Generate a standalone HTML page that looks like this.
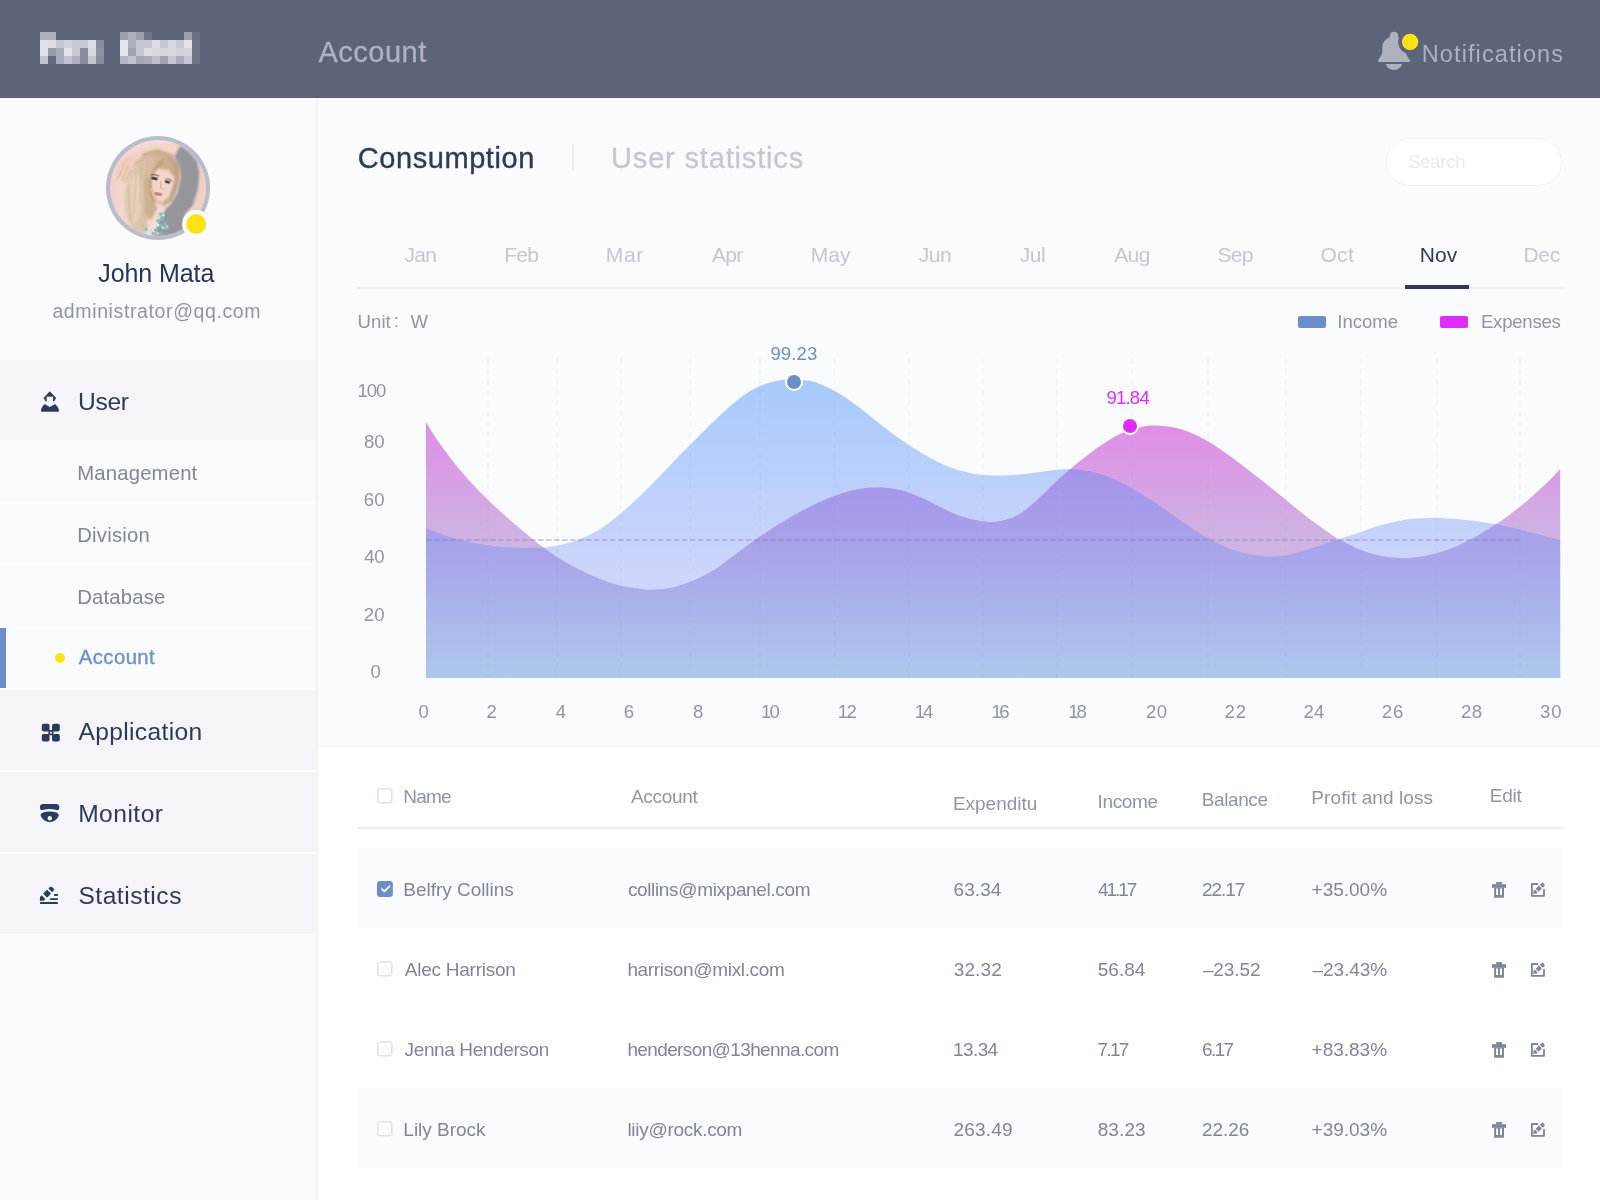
<!DOCTYPE html>
<html><head><meta charset="utf-8"><title>Account</title>
<style>
*{box-sizing:border-box;margin:0;padding:0}
html,body{width:1600px;height:1200px;overflow:hidden;background:#fafbfd;font-family:"Liberation Sans",sans-serif;}
.abs{position:absolute}
.t{position:absolute;white-space:nowrap;line-height:1;}
#hdr{left:0;top:0;width:1600px;height:98px;background:#5c6479;border-bottom:1px solid #545c71}
#side{left:0;top:99px;width:316px;height:1101px;background:#fafbfd}
#sdiv{left:316px;top:99px;width:2px;height:1101px;background:#f2f3f7}
.mi{left:0;width:316px;height:80px;background:#f4f4f9}
#tbl{left:318px;top:745px;width:1282px;height:455px;background:#fff;border-top:2px solid #f6f7fa}
.row{left:358px;width:1204px;height:80px;background:#fafbfe}
.cb{width:15.6px;height:15.6px;border:1.6px solid #e2e4ec;border-radius:3.5px;background:#fff}
</style></head><body>
<div id="root" style="position:absolute;left:0;top:0;width:1600px;height:1200px;will-change:transform">

<div class="abs" id="hdr"></div>
<div class="abs" style="left:0;top:98px;width:1600px;height:1px;background:#fff"></div>
<svg class="abs" style="left:40px;top:32px" width="160" height="32" shape-rendering="crispEdges"><rect x="0" y="0" width="8" height="8" fill="#adb1be"/><rect x="8" y="0" width="8" height="8" fill="#adb1be"/><rect x="0" y="8" width="8" height="8" fill="#e0e1e6"/><rect x="8" y="8" width="8" height="8" fill="#dcdde3"/><rect x="16" y="8" width="8" height="8" fill="#c6c9d2"/><rect x="24" y="8" width="8" height="8" fill="#d0d2d9"/><rect x="32" y="8" width="8" height="8" fill="#c8cbd3"/><rect x="40" y="8" width="8" height="8" fill="#c8cbd3"/><rect x="48" y="8" width="8" height="8" fill="#dddee4"/><rect x="56" y="8" width="8" height="8" fill="#878c9c"/><rect x="0" y="16" width="8" height="8" fill="#e0e1e6"/><rect x="8" y="16" width="8" height="8" fill="#969baa"/><rect x="16" y="16" width="8" height="8" fill="#a9adba"/><rect x="24" y="16" width="8" height="8" fill="#e2e3e8"/><rect x="32" y="16" width="8" height="8" fill="#c8cbd3"/><rect x="40" y="16" width="8" height="8" fill="#878c9c"/><rect x="48" y="16" width="8" height="8" fill="#d8dae0"/><rect x="56" y="16" width="8" height="8" fill="#8f94a3"/><rect x="0" y="24" width="8" height="8" fill="#c0c3cd"/><rect x="8" y="24" width="8" height="8" fill="#626880"/><rect x="16" y="24" width="8" height="8" fill="#a9adba"/><rect x="24" y="24" width="8" height="8" fill="#c0c3cd"/><rect x="32" y="24" width="8" height="8" fill="#adb1bc"/><rect x="40" y="24" width="8" height="8" fill="#878c9c"/><rect x="48" y="24" width="8" height="8" fill="#c4c7d0"/><rect x="56" y="24" width="8" height="8" fill="#878c9c"/><rect x="80" y="0" width="8" height="8" fill="#9b9fad"/><rect x="88" y="0" width="8" height="8" fill="#adb1be"/><rect x="96" y="0" width="8" height="8" fill="#9b9fad"/><rect x="104" y="0" width="8" height="8" fill="#6f7589"/><rect x="144" y="0" width="8" height="8" fill="#9b9fad"/><rect x="152" y="0" width="8" height="8" fill="#6a7085"/><rect x="80" y="8" width="8" height="8" fill="#e4e5e9"/><rect x="88" y="8" width="8" height="8" fill="#adb1be"/><rect x="96" y="8" width="8" height="8" fill="#c6c9d2"/><rect x="104" y="8" width="8" height="8" fill="#c6c9d2"/><rect x="112" y="8" width="8" height="8" fill="#dddee3"/><rect x="120" y="8" width="8" height="8" fill="#c6c9d2"/><rect x="128" y="8" width="8" height="8" fill="#d8d9df"/><rect x="136" y="8" width="8" height="8" fill="#c8cad3"/><rect x="144" y="8" width="8" height="8" fill="#e2e3e7"/><rect x="152" y="8" width="8" height="8" fill="#6f7589"/><rect x="80" y="16" width="8" height="8" fill="#e4e5e9"/><rect x="88" y="16" width="8" height="8" fill="#a0a4b2"/><rect x="96" y="16" width="8" height="8" fill="#c6c9d2"/><rect x="104" y="16" width="8" height="8" fill="#dcdde2"/><rect x="112" y="16" width="8" height="8" fill="#d8d9de"/><rect x="120" y="16" width="8" height="8" fill="#d6d7dd"/><rect x="128" y="16" width="8" height="8" fill="#d8d9de"/><rect x="136" y="16" width="8" height="8" fill="#d0d2d9"/><rect x="144" y="16" width="8" height="8" fill="#d4d6dc"/><rect x="152" y="16" width="8" height="8" fill="#6f7589"/><rect x="80" y="24" width="8" height="8" fill="#b4b7c3"/><rect x="88" y="24" width="8" height="8" fill="#c0c3cd"/><rect x="96" y="24" width="8" height="8" fill="#a5a9b6"/><rect x="104" y="24" width="8" height="8" fill="#a9adb9"/><rect x="112" y="24" width="8" height="8" fill="#bcbfc9"/><rect x="120" y="24" width="8" height="8" fill="#a0a4b2"/><rect x="128" y="24" width="8" height="8" fill="#c6c9d1"/><rect x="136" y="24" width="8" height="8" fill="#a9adb9"/><rect x="144" y="24" width="8" height="8" fill="#c6c9d1"/><rect x="152" y="24" width="8" height="8" fill="#6f7589"/></svg>
<span class="t" style="left:318.44px;top:38.00px;font-size:29.00px;color:#aeb2c0;letter-spacing:0.514px;-webkit-text-stroke:0.3px #aeb2c0;">Account</span>
<span class="t" style="left:1421.77px;top:43.00px;font-size:23.50px;color:#aeb2c0;letter-spacing:1.106px;">Notifications</span>
<svg class="abs" style="left:1370px;top:24px" width="56" height="56" viewBox="1370 24 56 56">
<g fill="#aeb2be"><circle cx="1394.060" cy="35.900" r="4.100"/>
<path d="M1390.200 37 C1385.500 38.800 1382.300 42.600 1382.300 47.500 V51.500 C1382.300 54.800 1379.600 57.600 1378.300 60.200 C1377.800 61.200 1378.300 62.100 1379.500 62.100 H1408.600 C1409.800 62.100 1410.300 61.200 1409.800 60.200 C1408.500 57.600 1405.800 54.800 1405.800 51.500 V47.500 C1405.800 42.600 1402.600 38.800 1397.900 37Z"/>
<path d="M1385.800 64.100 H1402.100 C1401 67.600 1397.900 69.950 1394 69.950 C1390 69.950 1386.900 67.600 1385.800 64.100Z"/></g>
<circle cx="1410.100" cy="42" r="11.900" fill="#5c6479"/>
<circle cx="1410.100" cy="42" r="8.200" fill="#ffe116"/>
</svg>
<div class="abs" id="side"></div><div class="abs" id="sdiv"></div>
<svg class="abs" style="left:104px;top:134px" width="108" height="108" viewBox="0 0 1200 1200">
<defs><clipPath id="avc"><circle cx="600" cy="600" r="532"/></clipPath>
<filter id="b1" x="-10%" y="-10%" width="120%" height="120%"><feGaussianBlur stdDeviation="13"/></filter>
<filter id="b2" x="-10%" y="-10%" width="120%" height="120%"><feGaussianBlur stdDeviation="9"/></filter>
<filter id="b3" x="-10%" y="-10%" width="120%" height="120%"><feGaussianBlur stdDeviation="5"/></filter>
<linearGradient id="avbg" x1="0" y1="0" x2="1" y2="0"><stop offset="0" stop-color="#f0d2cb"/><stop offset="0.5" stop-color="#f5ded8"/><stop offset="1" stop-color="#f4d8d1"/></linearGradient>
<linearGradient id="hairg" x1="0" y1="0" x2="1" y2="0"><stop offset="0" stop-color="#e3cdb5"/><stop offset="0.45" stop-color="#d8bea2"/><stop offset="1" stop-color="#c0a080"/></linearGradient>
<pattern id="knit" width="22" height="22" patternUnits="userSpaceOnUse"><rect width="22" height="22" fill="#96959c"/><circle cx="5" cy="6" r="5" fill="#b0afb6"/><circle cx="16" cy="17" r="5" fill="#807f88"/></pattern>
</defs>
<circle cx="600" cy="600" r="578" fill="#b9bccb"/>
<g clip-path="url(#avc)">
<rect x="60" y="60" width="1080" height="1080" fill="url(#avbg)"/>
<g filter="url(#b1)">
<path d="M1045 260 L1140 400 L1140 900 L1000 960 L985 800 L1050 610 Z" fill="#f1d0c7"/>
<path d="M842 128 L940 190 L1035 300 L1062 430 L1045 620 L985 800 L905 885 L885 1000 L870 1130 L560 1140 L640 860 L735 790 L815 650 L850 490 L838 335 L775 240 Z" fill="url(#knit)"/>
<path d="M260 245 L420 160 L600 108 L835 100 L842 140 L790 232 L620 192 L470 222 L345 330 Z" fill="#f3d4c6"/>
<path d="M330 335 L430 228 L600 168 L760 245 L835 330 L830 440 L800 620 L750 730 L650 830 L620 910 L510 1000 L450 1110 L320 1070 L240 900 L222 700 L255 500 Z" fill="url(#hairg)"/>
<path d="M122 525 L140 420 L190 312 L262 242 L332 252 L342 332 L292 422 L252 532 L214 548 L178 478 Z" fill="#f0ccbc"/>
</g>
<g filter="url(#b2)">
<path d="M528 445 L598 384 L715 398 L782 480 L772 600 L722 702 L642 765 L560 722 L520 600 Z" fill="#f3d5c8"/>
<path d="M545 745 L650 778 L690 832 L640 900 L560 1010 L470 1015 L500 880 Z" fill="#f4dbcf"/>
<path d="M770 310 L835 355 L835 520 L800 640 L752 735 L700 785 L745 640 L792 480 Z" fill="#c3a281"/>
<path d="M565 385 L650 305 L760 322 L792 425 L722 394 L602 382 L535 452 Z" fill="#cbad8e"/>
<path d="M300 520 L380 420 L420 600 L400 900 L340 1000 L300 800 Z" fill="#e5d1ba"/>
<path d="M445 500 L520 472 L528 700 L598 820 L520 960 L452 900 Z" fill="#ccb092"/>
<path d="M340 330 L600 205 L790 240" stroke="#dcb19f" stroke-width="22" fill="none"/>
<path d="M545 722 Q600 770 655 778" stroke="#d9b09b" stroke-width="20" fill="none"/>
<path d="M660 290 Q540 380 520 520 Q510 640 560 760" stroke="#b89a7a" stroke-width="26" fill="none"/>
<path d="M430 240 Q560 160 760 250" stroke="#c9ab8b" stroke-width="30" fill="none"/>
</g>
<g filter="url(#b3)">
<path d="M150 500 L232 335 M192 522 L272 352 M226 540 L300 402" stroke="#d7a591" stroke-width="12" fill="none" opacity="0.550"/>
<path d="M360 420 L330 900 M410 330 L400 760 M480 300 L460 560 M270 560 L290 950" stroke="#c9ad8e" stroke-width="10" fill="none" opacity="0.700"/>
<ellipse cx="562" cy="494" rx="38" ry="17" fill="#3f3640" transform="rotate(12 562 494)"/>
<ellipse cx="704" cy="534" rx="32" ry="15" fill="#3f3640" transform="rotate(14 704 534)"/>
<path d="M515 458 Q565 440 612 470" stroke="#8a6a56" stroke-width="13" fill="none"/>
<path d="M680 500 Q725 495 755 525" stroke="#8a6a56" stroke-width="12" fill="none"/>
<path d="M632 525 L628 598 L660 612" stroke="#dcb2a0" stroke-width="14" fill="none"/>
<ellipse cx="600" cy="667" rx="46" ry="19" fill="#c3807c" transform="rotate(10 600 667)"/>
<path d="M522 600 Q560 730 645 765" stroke="#e6c1b0" stroke-width="16" fill="none"/>
<g fill="#62c7d6"><circle cx="630" cy="890" r="20"/><circle cx="650" cy="945" r="20"/><circle cx="600" cy="965" r="18"/><circle cx="680" cy="1000" r="20"/><circle cx="630" cy="1015" r="20"/><circle cx="575" cy="1065" r="20"/><circle cx="690" cy="1055" r="18"/><circle cx="545" cy="1105" r="18"/><circle cx="470" cy="1060" r="16"/><circle cx="640" cy="1100" r="18"/></g>
<g fill="#f1d2a6"><circle cx="610" cy="925" r="16"/><circle cx="655" cy="1040" r="18"/><circle cx="520" cy="1075" r="18"/><circle cx="600" cy="1105" r="16"/><circle cx="700" cy="1030" r="14"/></g>
<g fill="#fbf3e8"><circle cx="660" cy="905" r="13"/><circle cx="600" cy="1010" r="15"/><circle cx="560" cy="1030" r="12"/><circle cx="500" cy="1040" r="12"/></g>
</g>
</g>
<circle cx="1025" cy="1000" r="156" fill="#fdfdfe"/><circle cx="1025" cy="1000" r="111" fill="#ffe116"/>
</svg>
<span class="t" style="left:98.31px;top:261.00px;font-size:25.00px;color:#26345a;letter-spacing:-0.093px;">John Mata</span>
<span class="t" style="left:52.42px;top:302.00px;font-size:19.50px;color:#8e95a9;letter-spacing:0.617px;">administrator@qq.com</span>
<div class="abs mi" style="top:360px"></div>
<div class="abs" style="left:0;top:440px;width:316px;height:250px;background:#fcfdfe"></div>
<div class="abs" style="left:0;top:440px;width:316px;height:62px;background:#fafbfd"></div>
<div class="abs" style="left:0;top:504px;width:316px;height:60px;background:#fafbfd"></div>
<div class="abs" style="left:0;top:566px;width:316px;height:60px;background:#fafbfd"></div>
<div class="abs" style="left:0;top:628px;width:316px;height:60px;background:#fafbfd"></div>
<div class="abs" style="left:0;top:628px;width:6px;height:60px;background:#6b8dc9"></div>
<div class="abs" style="left:55px;top:653px;width:10px;height:10px;border-radius:50%;background:#ffe116"></div>
<div class="abs" style="left:0;top:688px;width:316px;height:246px;background:#fff"></div>
<div class="abs mi" style="top:690px"></div>
<div class="abs mi" style="top:772px"></div>
<div class="abs mi" style="top:854px"></div>
<span class="t" style="left:78.00px;top:390.00px;font-size:24.60px;color:#2c3a5c;letter-spacing:-0.311px;">User</span>
<span class="t" style="left:77.23px;top:463.00px;font-size:20.30px;color:#7e869c;letter-spacing:0.181px;">Management</span>
<span class="t" style="left:77.23px;top:525.00px;font-size:20.30px;color:#7e869c;letter-spacing:0.231px;">Division</span>
<span class="t" style="left:77.23px;top:587.00px;font-size:20.30px;color:#7e869c;letter-spacing:0.195px;">Database</span>
<span class="t" style="left:78.86px;top:647.00px;font-size:20.30px;color:#6b8fd1;letter-spacing:0.423px;-webkit-text-stroke:0.35px #6b8fd1;">Account</span>
<span class="t" style="left:78.45px;top:720.00px;font-size:24.60px;color:#2c3a5c;letter-spacing:0.340px;">Application</span>
<span class="t" style="left:78.18px;top:802.00px;font-size:24.60px;color:#2c3a5c;letter-spacing:0.466px;">Monitor</span>
<span class="t" style="left:78.38px;top:884.00px;font-size:24.60px;color:#2c3a5c;letter-spacing:0.520px;">Statistics</span>
<svg class="abs" style="left:36px;top:386px" width="28" height="30" viewBox="36 386 28 30">
<path d="M49.760 391.750 L55.550 397.850 Q55.750 398.100 55.550 398.350 L53.550 401.250 V396.200 H46.150 V401.250 L44.200 398.350 Q44 398.100 44.200 397.850 Z" fill="#2c3a5c" stroke="#2c3a5c" stroke-width="0.900" stroke-linejoin="round"/>
<path d="M44.300 404.300 Q44.560 404.050 44.900 404.250 L49.760 407.100 L54.700 404.250 Q55.050 404.050 55.300 404.300 C57.400 406.200 58.500 408.400 58.950 410.300 C59.150 411.200 58.600 411.850 57.700 411.850 H42.200 C41.300 411.850 40.750 411.200 40.950 410.300 C41.400 408.400 42.300 406.200 44.300 404.300Z" fill="#2c3a5c"/>
</svg>
<svg class="abs" style="left:38px;top:720px" width="26" height="26" viewBox="38 720 26 26">
<g fill="#2c3a5c"><rect x="41.800" y="723.750" width="7.750" height="7.650" rx="1.800"/><rect x="52.050" y="723.750" width="7.750" height="7.650" rx="1.800"/><rect x="41.800" y="733.950" width="7.750" height="7.650" rx="1.800"/><rect x="52.050" y="733.950" width="7.750" height="7.650" rx="1.800"/></g>
<rect x="49.150" y="730.800" width="3.500" height="3.600" rx="0.300" fill="none" stroke="#2c3a5c" stroke-width="1.700"/>
</svg>
<svg class="abs" style="left:36px;top:800px" width="28" height="26" viewBox="36 800 28 26">
<path d="M43 803.900 H56.300 C58.200 803.900 59.300 805 59.300 806.800 V808 C59.300 809.600 58 810.500 56.600 810 C52 808.600 47.300 808.600 42.700 810 C41.300 810.500 40 809.600 40 808 V806.800 C40 805 41.100 803.900 43 803.900Z" fill="#2c3a5c"/>
<path d="M43 812.600 C47.400 811.200 52 811.200 56.400 812.600 C58.600 813.400 59.300 815.300 58.200 817 C56 820.200 53 822.100 49.700 822.100 C46.400 822.100 43.400 820.200 41.200 817 C40.100 815.300 40.800 813.400 43 812.600Z" fill="#2c3a5c"/>
<circle cx="49.800" cy="818.200" r="2.200" fill="#f4f4f9"/>
</svg>
<svg class="abs" style="left:36px;top:882px" width="28" height="26" viewBox="36 882 28 26">
<g fill="#2c3a5c"><rect x="40" y="902.050" width="17.900" height="1.850" rx="0.300"/><rect x="50.100" y="898.150" width="7.800" height="1.800" rx="0.300"/><rect x="54.100" y="894.050" width="3.800" height="1.850" rx="0.300"/>
<g transform="translate(39.900,900.700) rotate(-45)"><path d="M0 0 L2.700 -2.600 H5.100 V2.600 H2.700Z"/><rect x="7.300" y="-2.800" width="5.600" height="5.600" rx="0.200"/><path d="M14.700 -2.600 H16.600 C17.500 -2.600 18.200 -1.900 18.200 -1 V1 C18.200 1.900 17.500 2.600 16.600 2.600 H14.700Z"/></g></g>
</svg>
<span class="t" style="left:357.78px;top:144.00px;font-size:29.00px;color:#2c3a5c;letter-spacing:0.564px;-webkit-text-stroke:0.35px #2c3a5c;">Consumption</span>
<div class="abs" style="left:572px;top:144px;width:2px;height:27px;background:#eceef3"></div>
<span class="t" style="left:611.06px;top:144.00px;font-size:29.00px;color:#c3c7d3;letter-spacing:0.830px;-webkit-text-stroke:0.3px #c3c7d3;">User statistics</span>
<div class="abs" style="left:1386px;top:138px;width:176px;height:48px;border-radius:24px;background:#fff;border:1px solid #f0f1f5"></div>
<span class="t" style="left:1408.16px;top:153.00px;font-size:18.40px;color:#e8eaef;letter-spacing:-0.174px;">Search</span>
<span class="t" style="left:404.57px;top:244.00px;font-size:21.00px;color:#c3c7d3;letter-spacing:-0.733px;">Jan</span>
<span class="t" style="left:504.18px;top:244.00px;font-size:21.00px;color:#c3c7d3;letter-spacing:-0.741px;">Feb</span>
<span class="t" style="left:605.78px;top:244.00px;font-size:21.00px;color:#c3c7d3;letter-spacing:0.703px;">Mar</span>
<span class="t" style="left:712.06px;top:244.00px;font-size:21.00px;color:#c3c7d3;letter-spacing:-0.695px;">Apr</span>
<span class="t" style="left:810.78px;top:244.00px;font-size:21.00px;color:#c3c7d3;">May</span>
<span class="t" style="left:918.77px;top:244.00px;font-size:21.00px;color:#c3c7d3;letter-spacing:-0.433px;">Jun</span>
<span class="t" style="left:1019.67px;top:244.00px;font-size:21.00px;color:#c3c7d3;letter-spacing:-0.406px;">Jul</span>
<span class="t" style="left:1114.16px;top:244.00px;font-size:21.00px;color:#c3c7d3;letter-spacing:-0.585px;">Aug</span>
<span class="t" style="left:1217.55px;top:244.00px;font-size:21.00px;color:#c3c7d3;letter-spacing:-0.715px;">Sep</span>
<span class="t" style="left:1320.51px;top:244.00px;font-size:21.00px;color:#c3c7d3;letter-spacing:0.290px;">Oct</span>
<span class="t" style="left:1419.78px;top:244.00px;font-size:21.00px;color:#2c3a5c;letter-spacing:0.025px;">Nov</span>
<span class="t" style="left:1523.38px;top:244.00px;font-size:21.00px;color:#c3c7d3;letter-spacing:-0.284px;">Dec</span>
<div class="abs" style="left:357px;top:287px;width:1207px;height:2px;background:#eceef3"></div>
<div class="abs" style="left:1405px;top:285px;width:64px;height:4px;background:#2c3a5c"></div>
<span class="t" style="left:357.57px;top:313.00px;font-size:18.60px;color:#8e95a9;letter-spacing:0.031px;">Unit</span>
<span class="t" style="left:393.80px;top:312.00px;font-size:18.60px;color:#8e95a9;">:</span>
<span class="t" style="left:410.42px;top:313.00px;font-size:18.60px;color:#8e95a9;">W</span>
<div class="abs" style="left:1298px;top:316px;width:28px;height:12px;border-radius:2px;background:#6b8dc9"></div>
<span class="t" style="left:1337.28px;top:313.00px;font-size:18.60px;color:#8e95a9;letter-spacing:-0.010px;">Income</span>
<div class="abs" style="left:1440px;top:316px;width:28px;height:12px;border-radius:2px;background:#df2cfa"></div>
<span class="t" style="left:1480.97px;top:313.00px;font-size:18.60px;color:#8e95a9;letter-spacing:-0.255px;">Expenses</span>
<svg class="abs" style="left:340px;top:340px" width="1260" height="360" viewBox="340 340 1260 360">
<defs>
<linearGradient id="gb" gradientUnits="userSpaceOnUse" x1="0" y1="380" x2="0" y2="678"><stop offset="0" stop-color="#a7cafc"/><stop offset="0.600" stop-color="#cbd4fb"/><stop offset="1" stop-color="#dcdcfa"/></linearGradient>
<linearGradient id="gm" gradientUnits="userSpaceOnUse" x1="0" y1="420" x2="0" y2="678"><stop offset="0" stop-color="#e08ce6"/><stop offset="0.450" stop-color="#cfb2e3"/><stop offset="1" stop-color="#c4c4e6"/></linearGradient>
<linearGradient id="go" gradientUnits="userSpaceOnUse" x1="0" y1="470" x2="0" y2="678"><stop offset="0" stop-color="#a593ea"/><stop offset="0.500" stop-color="#a9a9eb"/><stop offset="1" stop-color="#aec8ec"/></linearGradient>
<clipPath id="cb"><path d="M426.0,528.0C430.0,529.5 441.0,534.3 450.0,537.0C459.0,539.7 470.0,542.2 480.0,544.0C490.0,545.8 500.0,547.0 510.0,547.6C520.0,548.2 531.7,548.0 540.0,547.6C548.3,547.2 553.3,546.4 560.0,545.0C566.7,543.6 573.3,541.7 580.0,539.0C586.7,536.3 593.3,533.2 600.0,529.0C606.7,524.8 613.3,519.5 620.0,514.0C626.7,508.5 633.3,502.3 640.0,496.0C646.7,489.7 653.3,482.8 660.0,476.0C666.7,469.2 673.3,461.8 680.0,455.0C686.7,448.2 693.3,441.6 700.0,435.0C706.7,428.4 713.3,421.7 720.0,415.5C726.7,409.3 733.3,402.9 740.0,398.0C746.7,393.1 753.3,388.9 760.0,386.0C766.7,383.1 774.3,381.4 780.0,380.3C785.7,379.2 789.3,379.3 794.0,379.4C798.7,379.4 803.7,379.8 808.0,380.6C812.3,381.4 814.7,381.8 820.0,384.0C825.3,386.2 833.3,390.0 840.0,394.0C846.7,398.0 853.3,403.0 860.0,408.0C866.7,413.0 873.3,418.8 880.0,424.0C886.7,429.2 893.3,434.3 900.0,439.0C906.7,443.7 913.3,448.0 920.0,452.0C926.7,456.0 933.3,459.9 940.0,463.0C946.7,466.1 953.3,468.6 960.0,470.5C966.7,472.4 973.3,473.8 980.0,474.6C986.7,475.5 993.3,475.6 1000.0,475.6C1006.7,475.6 1013.3,475.0 1020.0,474.4C1026.7,473.8 1033.3,472.8 1040.0,472.0C1046.7,471.2 1053.3,470.0 1060.0,469.6C1066.7,469.2 1073.3,469.1 1080.0,469.8C1086.7,470.5 1093.3,472.0 1100.0,474.0C1106.7,476.0 1113.3,478.8 1120.0,482.0C1126.7,485.2 1133.3,489.0 1140.0,493.0C1146.7,497.0 1153.3,501.5 1160.0,506.0C1166.7,510.5 1173.3,515.4 1180.0,520.0C1186.7,524.6 1193.3,529.4 1200.0,533.5C1206.7,537.6 1213.3,541.4 1220.0,544.5C1226.7,547.6 1233.3,550.1 1240.0,552.0C1246.7,553.9 1254.3,555.1 1260.0,555.8C1265.7,556.5 1269.0,556.6 1274.0,556.4C1279.0,556.2 1284.0,555.7 1290.0,554.4C1296.0,553.1 1301.7,551.2 1310.0,548.6C1318.3,546.0 1331.5,541.8 1340.0,539.0C1348.5,536.2 1354.5,534.1 1361.0,531.9C1367.5,529.7 1373.2,527.5 1379.0,525.8C1384.8,524.0 1390.2,522.6 1396.0,521.4C1401.8,520.2 1407.9,519.3 1413.8,518.7C1419.6,518.1 1425.2,518.0 1431.0,517.9C1436.8,517.8 1442.9,518.0 1448.8,518.4C1454.6,518.8 1460.2,519.4 1466.0,520.0C1471.8,520.6 1478.5,521.5 1483.8,522.3C1489.0,523.1 1491.9,523.4 1497.8,524.6C1503.6,525.8 1512.4,527.8 1518.8,529.3C1525.1,530.8 1529.1,532.0 1536.0,533.8C1542.9,535.6 1556.2,539.0 1560.2,540.0L1560.2,678L426,678Z"/></clipPath>
</defs>
<path d="M426.0,528.0C430.0,529.5 441.0,534.3 450.0,537.0C459.0,539.7 470.0,542.2 480.0,544.0C490.0,545.8 500.0,547.0 510.0,547.6C520.0,548.2 531.7,548.0 540.0,547.6C548.3,547.2 553.3,546.4 560.0,545.0C566.7,543.6 573.3,541.7 580.0,539.0C586.7,536.3 593.3,533.2 600.0,529.0C606.7,524.8 613.3,519.5 620.0,514.0C626.7,508.5 633.3,502.3 640.0,496.0C646.7,489.7 653.3,482.8 660.0,476.0C666.7,469.2 673.3,461.8 680.0,455.0C686.7,448.2 693.3,441.6 700.0,435.0C706.7,428.4 713.3,421.7 720.0,415.5C726.7,409.3 733.3,402.9 740.0,398.0C746.7,393.1 753.3,388.9 760.0,386.0C766.7,383.1 774.3,381.4 780.0,380.3C785.7,379.2 789.3,379.3 794.0,379.4C798.7,379.4 803.7,379.8 808.0,380.6C812.3,381.4 814.7,381.8 820.0,384.0C825.3,386.2 833.3,390.0 840.0,394.0C846.7,398.0 853.3,403.0 860.0,408.0C866.7,413.0 873.3,418.8 880.0,424.0C886.7,429.2 893.3,434.3 900.0,439.0C906.7,443.7 913.3,448.0 920.0,452.0C926.7,456.0 933.3,459.9 940.0,463.0C946.7,466.1 953.3,468.6 960.0,470.5C966.7,472.4 973.3,473.8 980.0,474.6C986.7,475.5 993.3,475.6 1000.0,475.6C1006.7,475.6 1013.3,475.0 1020.0,474.4C1026.7,473.8 1033.3,472.8 1040.0,472.0C1046.7,471.2 1053.3,470.0 1060.0,469.6C1066.7,469.2 1073.3,469.1 1080.0,469.8C1086.7,470.5 1093.3,472.0 1100.0,474.0C1106.7,476.0 1113.3,478.8 1120.0,482.0C1126.7,485.2 1133.3,489.0 1140.0,493.0C1146.7,497.0 1153.3,501.5 1160.0,506.0C1166.7,510.5 1173.3,515.4 1180.0,520.0C1186.7,524.6 1193.3,529.4 1200.0,533.5C1206.7,537.6 1213.3,541.4 1220.0,544.5C1226.7,547.6 1233.3,550.1 1240.0,552.0C1246.7,553.9 1254.3,555.1 1260.0,555.8C1265.7,556.5 1269.0,556.6 1274.0,556.4C1279.0,556.2 1284.0,555.7 1290.0,554.4C1296.0,553.1 1301.7,551.2 1310.0,548.6C1318.3,546.0 1331.5,541.8 1340.0,539.0C1348.5,536.2 1354.5,534.1 1361.0,531.9C1367.5,529.7 1373.2,527.5 1379.0,525.8C1384.8,524.0 1390.2,522.6 1396.0,521.4C1401.8,520.2 1407.9,519.3 1413.8,518.7C1419.6,518.1 1425.2,518.0 1431.0,517.9C1436.8,517.8 1442.9,518.0 1448.8,518.4C1454.6,518.8 1460.2,519.4 1466.0,520.0C1471.8,520.6 1478.5,521.5 1483.8,522.3C1489.0,523.1 1491.9,523.4 1497.8,524.6C1503.6,525.8 1512.4,527.8 1518.8,529.3C1525.1,530.8 1529.1,532.0 1536.0,533.8C1542.9,535.6 1556.2,539.0 1560.2,540.0L1560.2,678L426,678Z" fill="url(#gb)"/>
<path d="M426.0,422.0C428.3,425.7 434.3,436.0 440.0,444.0C445.7,452.0 453.3,462.0 460.0,470.0C466.7,478.0 473.3,485.2 480.0,492.0C486.7,498.8 493.3,504.9 500.0,511.0C506.7,517.1 513.3,522.8 520.0,528.5C526.7,534.2 533.3,539.9 540.0,545.0C546.7,550.1 553.3,554.8 560.0,559.0C566.7,563.2 573.3,566.7 580.0,570.0C586.7,573.3 593.3,576.4 600.0,579.0C606.7,581.6 613.3,583.9 620.0,585.6C626.7,587.3 634.7,588.3 640.0,589.0C645.3,589.7 647.0,589.9 652.0,589.7C657.0,589.5 663.7,589.3 670.0,588.0C676.3,586.7 683.3,584.6 690.0,582.0C696.7,579.4 705.0,575.2 710.0,572.5C715.0,569.8 715.0,569.6 720.0,566.0C725.0,562.4 733.3,555.9 740.0,551.0C746.7,546.1 753.3,541.1 760.0,536.5C766.7,531.9 773.3,527.6 780.0,523.5C786.7,519.4 793.3,515.6 800.0,512.0C806.7,508.4 813.3,505.0 820.0,502.0C826.7,499.0 833.3,496.2 840.0,494.0C846.7,491.8 853.3,490.1 860.0,489.0C866.7,487.9 873.3,487.4 880.0,487.6C886.7,487.8 893.3,488.4 900.0,490.0C906.7,491.6 913.3,494.2 920.0,497.0C926.7,499.8 933.3,503.8 940.0,507.0C946.7,510.2 953.3,513.7 960.0,516.0C966.7,518.3 974.3,520.0 980.0,521.0C985.7,522.0 989.0,522.4 994.0,522.0C999.0,521.6 1005.0,520.4 1010.0,518.6C1015.0,516.8 1019.0,514.6 1024.0,511.0C1029.0,507.4 1034.0,502.7 1040.0,497.2C1046.0,491.7 1053.3,484.0 1060.0,478.0C1066.7,472.0 1073.3,466.3 1080.0,461.0C1086.7,455.7 1093.3,450.5 1100.0,446.0C1106.7,441.5 1113.3,437.1 1120.0,434.0C1126.7,430.9 1134.0,428.6 1140.0,427.2C1146.0,425.8 1149.3,425.3 1156.0,425.6C1162.7,425.9 1172.7,427.1 1180.0,429.0C1187.3,430.9 1193.3,433.7 1200.0,437.0C1206.7,440.3 1213.3,444.6 1220.0,449.0C1226.7,453.4 1233.3,458.5 1240.0,463.5C1246.7,468.5 1253.3,473.8 1260.0,479.0C1266.7,484.2 1273.3,489.6 1280.0,495.0C1286.7,500.4 1293.3,506.2 1300.0,511.5C1306.7,516.8 1313.3,521.8 1320.0,526.5C1326.7,531.2 1333.2,536.1 1340.0,540.0C1346.8,543.9 1354.5,547.4 1361.0,550.0C1367.5,552.6 1372.2,554.2 1379.0,555.5C1385.8,556.8 1394.2,557.9 1401.5,558.0C1408.8,558.1 1416.1,557.4 1422.5,556.4C1428.9,555.4 1434.2,553.9 1440.0,552.2C1445.8,550.5 1451.7,548.5 1457.5,546.0C1463.3,543.5 1469.2,540.5 1475.0,537.3C1480.8,534.1 1486.7,530.4 1492.5,526.6C1498.3,522.8 1504.2,518.8 1510.0,514.4C1515.8,510.0 1521.7,505.4 1527.5,500.4C1533.3,495.4 1539.5,489.9 1545.0,484.6C1550.5,479.4 1557.7,471.5 1560.2,468.9L1560.2,678L426,678Z" fill="url(#gm)"/>
<path d="M426.0,422.0C428.3,425.7 434.3,436.0 440.0,444.0C445.7,452.0 453.3,462.0 460.0,470.0C466.7,478.0 473.3,485.2 480.0,492.0C486.7,498.8 493.3,504.9 500.0,511.0C506.7,517.1 513.3,522.8 520.0,528.5C526.7,534.2 533.3,539.9 540.0,545.0C546.7,550.1 553.3,554.8 560.0,559.0C566.7,563.2 573.3,566.7 580.0,570.0C586.7,573.3 593.3,576.4 600.0,579.0C606.7,581.6 613.3,583.9 620.0,585.6C626.7,587.3 634.7,588.3 640.0,589.0C645.3,589.7 647.0,589.9 652.0,589.7C657.0,589.5 663.7,589.3 670.0,588.0C676.3,586.7 683.3,584.6 690.0,582.0C696.7,579.4 705.0,575.2 710.0,572.5C715.0,569.8 715.0,569.6 720.0,566.0C725.0,562.4 733.3,555.9 740.0,551.0C746.7,546.1 753.3,541.1 760.0,536.5C766.7,531.9 773.3,527.6 780.0,523.5C786.7,519.4 793.3,515.6 800.0,512.0C806.7,508.4 813.3,505.0 820.0,502.0C826.7,499.0 833.3,496.2 840.0,494.0C846.7,491.8 853.3,490.1 860.0,489.0C866.7,487.9 873.3,487.4 880.0,487.6C886.7,487.8 893.3,488.4 900.0,490.0C906.7,491.6 913.3,494.2 920.0,497.0C926.7,499.8 933.3,503.8 940.0,507.0C946.7,510.2 953.3,513.7 960.0,516.0C966.7,518.3 974.3,520.0 980.0,521.0C985.7,522.0 989.0,522.4 994.0,522.0C999.0,521.6 1005.0,520.4 1010.0,518.6C1015.0,516.8 1019.0,514.6 1024.0,511.0C1029.0,507.4 1034.0,502.7 1040.0,497.2C1046.0,491.7 1053.3,484.0 1060.0,478.0C1066.7,472.0 1073.3,466.3 1080.0,461.0C1086.7,455.7 1093.3,450.5 1100.0,446.0C1106.7,441.5 1113.3,437.1 1120.0,434.0C1126.7,430.9 1134.0,428.6 1140.0,427.2C1146.0,425.8 1149.3,425.3 1156.0,425.6C1162.7,425.9 1172.7,427.1 1180.0,429.0C1187.3,430.9 1193.3,433.7 1200.0,437.0C1206.7,440.3 1213.3,444.6 1220.0,449.0C1226.7,453.4 1233.3,458.5 1240.0,463.5C1246.7,468.5 1253.3,473.8 1260.0,479.0C1266.7,484.2 1273.3,489.6 1280.0,495.0C1286.7,500.4 1293.3,506.2 1300.0,511.5C1306.7,516.8 1313.3,521.8 1320.0,526.5C1326.7,531.2 1333.2,536.1 1340.0,540.0C1346.8,543.9 1354.5,547.4 1361.0,550.0C1367.5,552.6 1372.2,554.2 1379.0,555.5C1385.8,556.8 1394.2,557.9 1401.5,558.0C1408.8,558.1 1416.1,557.4 1422.5,556.4C1428.9,555.4 1434.2,553.9 1440.0,552.2C1445.8,550.5 1451.7,548.5 1457.5,546.0C1463.3,543.5 1469.2,540.5 1475.0,537.3C1480.8,534.1 1486.7,530.4 1492.5,526.6C1498.3,522.8 1504.2,518.8 1510.0,514.4C1515.8,510.0 1521.7,505.4 1527.5,500.4C1533.3,495.4 1539.5,489.9 1545.0,484.6C1550.5,479.4 1557.7,471.5 1560.2,468.9L1560.2,678L426,678Z" fill="url(#go)" clip-path="url(#cb)"/>
<g stroke="#8a8fa8" stroke-opacity="0.110" stroke-width="1.200" stroke-dasharray="6 4.500"><line x1="488" y1="358" x2="488" y2="678"/><line x1="557" y1="358" x2="557" y2="678"/><line x1="621" y1="358" x2="621" y2="678"/><line x1="690" y1="358" x2="690" y2="678"/><line x1="760" y1="358" x2="760" y2="678"/><line x1="834.4" y1="358" x2="834.4" y2="678"/><line x1="908.8" y1="358" x2="908.8" y2="678"/><line x1="982.8" y1="358" x2="982.8" y2="678"/><line x1="1057" y1="358" x2="1057" y2="678"/><line x1="1132" y1="358" x2="1132" y2="678"/><line x1="1208" y1="358" x2="1208" y2="678"/><line x1="1286" y1="358" x2="1286" y2="678"/><line x1="1361" y1="358" x2="1361" y2="678"/><line x1="1436.8" y1="358" x2="1436.8" y2="678"/><line x1="1520" y1="358" x2="1520" y2="678"/></g>
<line x1="426" y1="540" x2="1519" y2="540" stroke="#7f7ab2" stroke-opacity="0.480" stroke-width="1.500" stroke-dasharray="5.500 2.500"/>
<circle cx="794" cy="382" r="8" fill="#6b8dc9" stroke="#fff" stroke-width="2"/>
<circle cx="1130" cy="426" r="8" fill="#df2cfa" stroke="#fff" stroke-width="2"/>
</svg>
<span class="t" style="left:770.43px;top:345.00px;font-size:18.60px;color:#6b8dc9;letter-spacing:0.111px;">99.23</span>
<span class="t" style="left:1106.43px;top:389.00px;font-size:18.60px;color:#df2cfa;letter-spacing:-0.807px;">91.84</span>
<span class="t" style="left:357.38px;top:382.00px;font-size:18.60px;color:#8e95a9;letter-spacing:-1.045px;">100</span>
<span class="t" style="left:363.99px;top:433.00px;font-size:18.60px;color:#8e95a9;letter-spacing:-0.054px;">80</span>
<span class="t" style="left:363.86px;top:491.00px;font-size:18.60px;color:#8e95a9;letter-spacing:0.082px;">60</span>
<span class="t" style="left:364.37px;top:548.00px;font-size:18.60px;color:#8e95a9;letter-spacing:-0.435px;">40</span>
<span class="t" style="left:363.86px;top:606.00px;font-size:18.60px;color:#8e95a9;letter-spacing:0.073px;">20</span>
<span class="t" style="left:370.47px;top:663.00px;font-size:18.60px;color:#8e95a9;">0</span>
<span class="t" style="left:418.52px;top:703.00px;font-size:18.60px;color:#8e95a9;">0</span>
<span class="t" style="left:486.56px;top:703.00px;font-size:18.60px;color:#8e95a9;">2</span>
<span class="t" style="left:555.67px;top:703.00px;font-size:18.60px;color:#8e95a9;">4</span>
<span class="t" style="left:623.76px;top:703.00px;font-size:18.60px;color:#8e95a9;">6</span>
<span class="t" style="left:692.89px;top:703.00px;font-size:18.60px;color:#8e95a9;">8</span>
<span class="t" style="left:760.88px;top:703.00px;font-size:18.60px;color:#8e95a9;letter-spacing:-1.746px;">10</span>
<span class="t" style="left:837.78px;top:703.00px;font-size:18.60px;color:#8e95a9;letter-spacing:-1.637px;">12</span>
<span class="t" style="left:914.68px;top:703.00px;font-size:18.60px;color:#8e95a9;letter-spacing:-2.027px;">14</span>
<span class="t" style="left:991.48px;top:703.00px;font-size:18.60px;color:#8e95a9;letter-spacing:-2.555px;">16</span>
<span class="t" style="left:1068.28px;top:703.00px;font-size:18.60px;color:#8e95a9;letter-spacing:-2.064px;">18</span>
<span class="t" style="left:1146.06px;top:703.00px;font-size:18.60px;color:#8e95a9;letter-spacing:0.273px;">20</span>
<span class="t" style="left:1224.46px;top:703.00px;font-size:18.60px;color:#8e95a9;letter-spacing:0.882px;">22</span>
<span class="t" style="left:1303.56px;top:703.00px;font-size:18.60px;color:#8e95a9;letter-spacing:0.092px;">24</span>
<span class="t" style="left:1381.86px;top:703.00px;font-size:18.60px;color:#8e95a9;letter-spacing:0.864px;">26</span>
<span class="t" style="left:1461.06px;top:703.00px;font-size:18.60px;color:#8e95a9;letter-spacing:0.355px;">28</span>
<span class="t" style="left:1539.99px;top:703.00px;font-size:18.60px;color:#8e95a9;letter-spacing:0.846px;">30</span>
<div class="abs" id="tbl"></div>
<svg class="abs" style="left:376.2px;top:786.6px" width="18" height="18" viewBox="-1 -1 18 18"><rect x="0.800" y="0.800" width="14" height="14" rx="2.800" fill="#fff" stroke="#e1e3eb" stroke-width="1.600"/></svg>
<span class="t" style="left:403.34px;top:787.00px;font-size:19.00px;color:#8e95a9;letter-spacing:-0.793px;">Name</span>
<span class="t" style="left:630.96px;top:787.00px;font-size:19.00px;color:#8e95a9;letter-spacing:-0.313px;">Account</span>
<span class="t" style="left:952.94px;top:794.00px;font-size:19.00px;color:#8e95a9;letter-spacing:-0.023px;">Expenditu</span>
<span class="t" style="left:1097.55px;top:792.00px;font-size:19.00px;color:#8e95a9;letter-spacing:-0.362px;">Income</span>
<span class="t" style="left:1201.74px;top:790.00px;font-size:19.00px;color:#8e95a9;letter-spacing:-0.393px;">Balance</span>
<span class="t" style="left:1311.34px;top:788.00px;font-size:19.00px;color:#8e95a9;letter-spacing:0.097px;">Profit and loss</span>
<span class="t" style="left:1489.74px;top:786.00px;font-size:19.00px;color:#8e95a9;letter-spacing:-0.247px;">Edit</span>
<div class="abs" style="left:357px;top:827px;width:1207px;height:2px;background:#eceef3"></div>
<div class="abs row" style="top:848px"></div>
<div class="abs row" style="top:1088px"></div>
<svg class="abs" style="left:375px;top:879px" width="20" height="20" viewBox="375 879 20 20"><rect x="377" y="881" width="15.900" height="15.900" rx="3" fill="#6c8fcb"/><path d="M382 889.200 L384.400 891.400 L389.500 886.300" fill="none" stroke="#fff" stroke-width="1.800" stroke-linecap="round" stroke-linejoin="round"/></svg>
<span class="t" style="left:403.34px;top:880.00px;font-size:19.00px;color:#7e869c;letter-spacing:-0.032px;">Belfry Collins</span>
<span class="t" style="left:627.89px;top:880.00px;font-size:19.00px;color:#7e869c;letter-spacing:-0.349px;">collins@mixpanel.com</span>
<span class="t" style="left:953.54px;top:880.00px;font-size:19.00px;color:#7e869c;letter-spacing:0.069px;">63.34</span>
<span class="t" style="left:1098.06px;top:880.00px;font-size:19.00px;color:#7e869c;letter-spacing:-2.064px;">41.17</span>
<span class="t" style="left:1201.94px;top:880.00px;font-size:19.00px;color:#7e869c;letter-spacing:-1.034px;">22.17</span>
<span class="t" style="left:1311.57px;top:880.00px;font-size:19.00px;color:#7e869c;letter-spacing:-0.005px;">+35.00%</span>
<svg class="abs" style="left:1488px;top:878px" width="64" height="24" viewBox="1488 878 64 24">
<g fill="#7e869c"><rect x="1496.200" y="882" width="5.700" height="2.500"/><rect x="1492" y="884.200" width="14" height="3.600"/>
<path fill-rule="evenodd" d="M1494.100 887.700 H1504 V897.800 H1494.100Z M1496.100 888.600 V895 H1498.100 V888.600Z M1500 888.600 V895 H1502 V888.600Z"/>
<path d="M1538 883.100 H1532 C1531.400 883.100 1531 883.500 1531 884.100 V895.800 C1531 896.400 1531.400 896.800 1532 896.800 H1543.900 C1544.500 896.800 1544.900 896.400 1544.900 895.800 V889 H1543.100 V895 H1532.800 V884.900 H1538Z"/>
<g transform="translate(1533.250,893.800) rotate(-43)"><path d="M0 0 L2.400 -2.100 H4 V2.100 H2.400Z"/><rect x="5.200" y="-2.100" width="4.700" height="4.200"/><path d="M11 -2.100 H13.200 C14 -2.100 14.500 -1.600 14.500 -0.900 V0.900 C14.500 1.600 14 2.100 13.200 2.100 H11Z"/></g></g>
</svg>
<svg class="abs" style="left:376.2px;top:960.2px" width="18" height="18" viewBox="-1 -1 18 18"><rect x="0.800" y="0.800" width="14" height="14" rx="2.800" fill="#fff" stroke="#e1e3eb" stroke-width="1.600"/></svg>
<span class="t" style="left:404.86px;top:960.00px;font-size:19.00px;color:#7e869c;letter-spacing:-0.256px;">Alec Harrison</span>
<span class="t" style="left:627.38px;top:960.00px;font-size:19.00px;color:#7e869c;letter-spacing:-0.338px;">harrison@mixl.com</span>
<span class="t" style="left:953.78px;top:960.00px;font-size:19.00px;color:#7e869c;letter-spacing:0.108px;">32.32</span>
<span class="t" style="left:1097.74px;top:960.00px;font-size:19.00px;color:#7e869c;letter-spacing:0.018px;">56.84</span>
<span class="t" style="left:1202.90px;top:960.00px;font-size:19.00px;color:#7e869c;letter-spacing:-0.092px;">–23.52</span>
<span class="t" style="left:1312.50px;top:960.00px;font-size:19.00px;color:#7e869c;letter-spacing:-0.072px;">–23.43%</span>
<svg class="abs" style="left:1488px;top:958px" width="64" height="24" viewBox="1488 878 64 24">
<g fill="#7e869c"><rect x="1496.200" y="882" width="5.700" height="2.500"/><rect x="1492" y="884.200" width="14" height="3.600"/>
<path fill-rule="evenodd" d="M1494.100 887.700 H1504 V897.800 H1494.100Z M1496.100 888.600 V895 H1498.100 V888.600Z M1500 888.600 V895 H1502 V888.600Z"/>
<path d="M1538 883.100 H1532 C1531.400 883.100 1531 883.500 1531 884.100 V895.800 C1531 896.400 1531.400 896.800 1532 896.800 H1543.900 C1544.500 896.800 1544.900 896.400 1544.900 895.800 V889 H1543.100 V895 H1532.800 V884.900 H1538Z"/>
<g transform="translate(1533.250,893.800) rotate(-43)"><path d="M0 0 L2.400 -2.100 H4 V2.100 H2.400Z"/><rect x="5.200" y="-2.100" width="4.700" height="4.200"/><path d="M11 -2.100 H13.200 C14 -2.100 14.500 -1.600 14.500 -0.900 V0.900 C14.500 1.600 14 2.100 13.200 2.100 H11Z"/></g></g>
</svg>
<svg class="abs" style="left:376.2px;top:1040.2px" width="18" height="18" viewBox="-1 -1 18 18"><rect x="0.800" y="0.800" width="14" height="14" rx="2.800" fill="#fff" stroke="#e1e3eb" stroke-width="1.600"/></svg>
<span class="t" style="left:404.60px;top:1040.00px;font-size:19.00px;color:#7e869c;letter-spacing:-0.383px;">Jenna Henderson</span>
<span class="t" style="left:627.38px;top:1040.00px;font-size:19.00px;color:#7e869c;letter-spacing:-0.618px;">henderson@13henna.com</span>
<span class="t" style="left:953.05px;top:1040.00px;font-size:19.00px;color:#7e869c;letter-spacing:-0.611px;">13.34</span>
<span class="t" style="left:1097.53px;top:1040.00px;font-size:19.00px;color:#7e869c;letter-spacing:-1.717px;">7.17</span>
<span class="t" style="left:1201.94px;top:1040.00px;font-size:19.00px;color:#7e869c;letter-spacing:-1.586px;">6.17</span>
<span class="t" style="left:1311.57px;top:1040.00px;font-size:19.00px;color:#7e869c;letter-spacing:-0.005px;">+83.83%</span>
<svg class="abs" style="left:1488px;top:1038px" width="64" height="24" viewBox="1488 878 64 24">
<g fill="#7e869c"><rect x="1496.200" y="882" width="5.700" height="2.500"/><rect x="1492" y="884.200" width="14" height="3.600"/>
<path fill-rule="evenodd" d="M1494.100 887.700 H1504 V897.800 H1494.100Z M1496.100 888.600 V895 H1498.100 V888.600Z M1500 888.600 V895 H1502 V888.600Z"/>
<path d="M1538 883.100 H1532 C1531.400 883.100 1531 883.500 1531 884.100 V895.800 C1531 896.400 1531.400 896.800 1532 896.800 H1543.900 C1544.500 896.800 1544.900 896.400 1544.900 895.800 V889 H1543.100 V895 H1532.800 V884.900 H1538Z"/>
<g transform="translate(1533.250,893.800) rotate(-43)"><path d="M0 0 L2.400 -2.100 H4 V2.100 H2.400Z"/><rect x="5.200" y="-2.100" width="4.700" height="4.200"/><path d="M11 -2.100 H13.200 C14 -2.100 14.500 -1.600 14.500 -0.900 V0.900 C14.500 1.600 14 2.100 13.200 2.100 H11Z"/></g></g>
</svg>
<svg class="abs" style="left:376.2px;top:1120.2px" width="18" height="18" viewBox="-1 -1 18 18"><rect x="0.800" y="0.800" width="14" height="14" rx="2.800" fill="#fff" stroke="#e1e3eb" stroke-width="1.600"/></svg>
<span class="t" style="left:403.34px;top:1120.00px;font-size:19.00px;color:#7e869c;letter-spacing:-0.014px;">Lily Brock</span>
<span class="t" style="left:627.42px;top:1120.00px;font-size:19.00px;color:#7e869c;letter-spacing:-0.290px;">liiy@rock.com</span>
<span class="t" style="left:953.54px;top:1120.00px;font-size:19.00px;color:#7e869c;letter-spacing:0.168px;">263.49</span>
<span class="t" style="left:1097.67px;top:1120.00px;font-size:19.00px;color:#7e869c;letter-spacing:0.104px;">83.23</span>
<span class="t" style="left:1201.94px;top:1120.00px;font-size:19.00px;color:#7e869c;letter-spacing:-0.064px;">22.26</span>
<span class="t" style="left:1311.57px;top:1120.00px;font-size:19.00px;color:#7e869c;letter-spacing:-0.005px;">+39.03%</span>
<svg class="abs" style="left:1488px;top:1118px" width="64" height="24" viewBox="1488 878 64 24">
<g fill="#7e869c"><rect x="1496.200" y="882" width="5.700" height="2.500"/><rect x="1492" y="884.200" width="14" height="3.600"/>
<path fill-rule="evenodd" d="M1494.100 887.700 H1504 V897.800 H1494.100Z M1496.100 888.600 V895 H1498.100 V888.600Z M1500 888.600 V895 H1502 V888.600Z"/>
<path d="M1538 883.100 H1532 C1531.400 883.100 1531 883.500 1531 884.100 V895.800 C1531 896.400 1531.400 896.800 1532 896.800 H1543.900 C1544.500 896.800 1544.900 896.400 1544.900 895.800 V889 H1543.100 V895 H1532.800 V884.900 H1538Z"/>
<g transform="translate(1533.250,893.800) rotate(-43)"><path d="M0 0 L2.400 -2.100 H4 V2.100 H2.400Z"/><rect x="5.200" y="-2.100" width="4.700" height="4.200"/><path d="M11 -2.100 H13.200 C14 -2.100 14.500 -1.600 14.500 -0.900 V0.900 C14.500 1.600 14 2.100 13.200 2.100 H11Z"/></g></g>
</svg>
</div></body></html>
